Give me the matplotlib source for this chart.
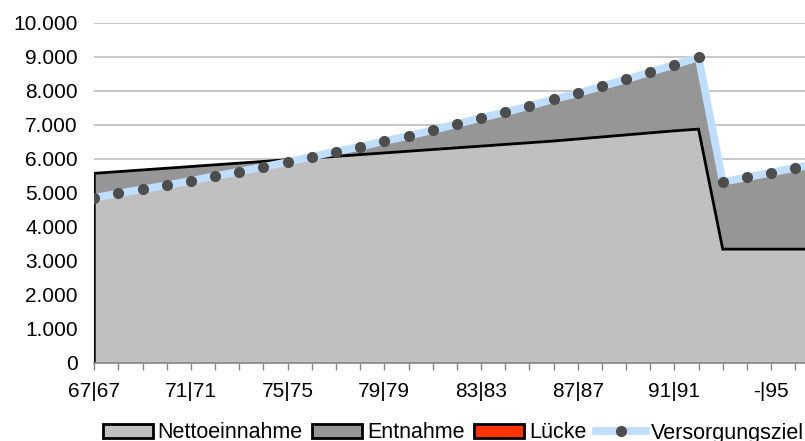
import numpy as np
import matplotlib
matplotlib.use("Agg")
from matplotlib import pyplot as plt
from matplotlib.patches import Patch
from matplotlib.lines import Line2D
from matplotlib.ticker import FuncFormatter

plt.rcParams['font.family'] = ['Liberation Sans', 'DejaVu Sans']

# one point per year, index 0 = 67|67
nettoeinnahme = [5570, 5620, 5670, 5720, 5770, 5820, 5870, 5920, 5970, 6020,
                 6070, 6120, 6170, 6220, 6270, 6320, 6370, 6420, 6470, 6520,
                 6580, 6640, 6700, 6760, 6820, 6870, 3340, 3340, 3340, 3340, 3340]
versorgungsziel = [4850, 4980, 5100, 5220, 5350, 5490, 5620, 5760, 5900, 6060,
                   6210, 6350, 6520, 6670, 6840, 7020, 7200, 7370, 7550, 7750,
                   7920, 8130, 8330, 8550, 8760, 8980, 5320, 5450, 5590, 5730, 5870]
luecke = [0] * 31
tick_labels = ['67|67', '', '', '', '71|71', '', '', '', '75|75', '', '', '',
               '79|79', '', '', '', '83|83', '', '', '', '87|87', '', '', '',
               '91|91', '', '', '', '-|95', '', '']

c_netto = '#c0c0c0'
c_entn = '#969696'
c_luecke = '#ff3300'
c_ziel = '#c0defb'
c_dot = '#4d4d4d'
fs = 15
fs_leg = 15.5

x = np.arange(len(nettoeinnahme))
netto = np.array(nettoeinnahme)
ziel = np.array(versorgungsziel)

fig = plt.figure(figsize=(8.05, 4.41), dpi=100)
ax = fig.add_axes([94.3 / 805, (441 - 362.7) / 441, 1 - 94.3 / 805, 340 / 441])

ax.fill_between(x, 0, netto, color=c_netto, lw=0, zorder=2)
ax.fill_between(x, netto, ziel, color=c_entn, lw=0, zorder=2)
ax.fill_between(x, ziel, ziel + np.array(luecke), color=c_luecke, lw=0, zorder=2)
ax.plot(np.r_[0, x], np.r_[0, netto], color='black', lw=2, zorder=3,
        solid_joinstyle='miter')
ax.plot(x, ziel, color=c_ziel, lw=5.5, zorder=4)
ax.plot(x, ziel, ls='none', marker='o', ms=7, color=c_dot, zorder=5)

ax.set_yticks(np.arange(0, 10001, 1000))
ax.yaxis.set_major_formatter(FuncFormatter(lambda v, p: f'{int(v):,}'.replace(',', '.')))
ax.set_xticks(x)
ax.set_xticklabels(tick_labels)
ax.set_xlim(0, (805 - 94.3) / 24.17)
ax.set_ylim(0, 10000)

ax.grid(axis='y', color='#bfbfbf', lw=1.2, zorder=0)
ax.set_axisbelow(True)
for s in ['top', 'right', 'left']:
    ax.spines[s].set_visible(False)
ax.spines['bottom'].set_color('#868686')
ax.spines['bottom'].set_linewidth(1.2)
ax.spines['bottom'].set_zorder(6)
ax.tick_params(axis='y', length=0, pad=12, labelsize=fs)
ax.tick_params(axis='x', length=5, color='#868686', width=1, pad=9, labelsize=fs)

handles = [
    Patch(facecolor=c_netto, edgecolor='black', lw=2, label='Nettoeinnahme'),
    Patch(facecolor=c_entn, edgecolor='black', lw=2, label='Entnahme'),
    Patch(facecolor=c_luecke, edgecolor='black', lw=2, label='Lücke'),
    Line2D([], [], color=c_ziel, lw=5.5, marker='o', ms=7, mfc=c_dot, mec=c_dot,
           label='Versorgungsziel'),
]
fig.legend(handles=handles, loc='center left', bbox_to_anchor=(103 / 805, 8 / 441),
           ncol=4, frameon=False, fontsize=fs_leg, handlelength=2.3, handleheight=0.65,
           handletextpad=0.23, columnspacing=0.46, borderpad=0, borderaxespad=0)

fig.savefig('out.png', dpi=100)
